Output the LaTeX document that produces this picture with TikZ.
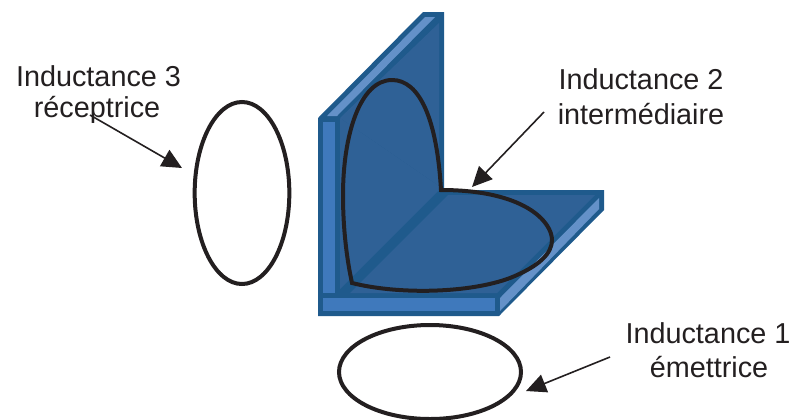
\documentclass[tikz,border=0pt]{standalone}
\usepackage{fontspec}
\setmainfont{Liberation Sans}
\usetikzlibrary{arrows.meta,shapes.geometric}
\definecolor{edgeblue}{HTML}{1F5A8C}
\definecolor{faceblue}{HTML}{2F6196}
\definecolor{stripblue}{HTML}{3F79BC}
\definecolor{lightblue}{HTML}{6491C8}
\definecolor{inkk}{HTML}{231F20}
\tikzset{
  lab/.style={font=\fontsize{21.6}{25}\selectfont,text=inkk,inner sep=0pt,anchor=center},
  coil/.style={draw=inkk,line width=3pt},
  loopnode/.style={ellipse,coil,fill=white,inner sep=0pt},
  arr/.style={draw=inkk,line width=1.2pt,-{Triangle[length=15pt,width=14pt]}},
  plate/.style={fill=edgeblue},
  face/.style={fill=faceblue},
  strip/.style={fill=stripblue},
  lightstrip/.style={fill=lightblue}
}
\begin{document}
\begin{tikzpicture}[x=0.75pt,y=-0.75pt]
\useasboundingbox (0,0) rectangle (792,419);
% angle bracket body
\path[plate] (318,118) -- (423,12) -- (444,12) -- (444,190) -- (604,190) -- (604,210) -- (499,316) -- (318,316) -- cycle;
\path[face] (340,118) -- (439,23) -- (439,186) -- cycle;
\path[face] (340,118) -- (439,186) -- (439,190) -- (340,289) -- cycle;
\path[face] (448,195) -- (595,195) -- (497,293) -- (350,293) -- cycle;
\path[strip] (323,122) rectangle (335,293);
\path[strip] (323,298) rectangle (495,311);
\path[lightstrip] (327,116) -- (425,17) -- (435,17) -- (337,116) -- cycle;
\path[lightstrip] (500,298) -- (599,198) -- (599,209) -- (500,311) -- cycle;
% coils
\draw[coil,line join=miter] (441,190) .. controls (437,120) and (420,80) .. (392,80)
  .. controls (360,80) and (343,135) .. (343,195)
  .. controls (343,230) and (347,260) .. (352,283)
  .. controls (400,295) and (470,293) .. (510,278)
  .. controls (540,266) and (552,253) .. (552,240)
  .. controls (552,222) and (525,190) .. (441,190) -- cycle;
\node[loopnode,minimum width=71pt,minimum height=136.5pt] (rx) at (242,193) {};
\node[loopnode,minimum width=136.5pt,minimum height=70.5pt] (tx) at (430,372) {};
\coordinate (relay) at (472,187);
% labels
\node[lab] (l3a) at (98.5,76) {Inductance 3};
\node[lab] (l3b) at (97,110) {réceptrice};
\node[lab] (l2a) at (641,79) {Inductance 2};
\node[lab] (l2b) at (641,114) {intermédiaire};
\node[lab] (l1a) at (708,333) {Inductance 1};
\node[lab] (l1b) at (709,367) {émettrice};
% arrows
\coordinate (s3) at (90,115);
\coordinate (s2) at (544,112);
\coordinate (s1) at (610,357);
\coordinate (e3) at (182,168);
\coordinate (e1) at (526,391);
\draw[arr] (s3) -- (e3);
\draw[arr] (s2) -- (relay);
\draw[arr] (s1) -- (e1);
\end{tikzpicture}
\end{document}
